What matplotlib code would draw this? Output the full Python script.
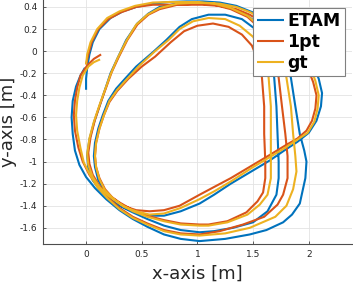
import matplotlib
matplotlib.use("Agg")
import matplotlib.pyplot as plt

plt.rcParams['font.family'] = ['DejaVu Sans']
plt.rcParams['axes.unicode_minus'] = False

labels = ["ETAM", "1pt", "gt"]
colors = ["#0072BD", "#D95319", "#EDB120"]

etam_x = [0.00, 0.00, 0.01, 0.03, 0.06, 0.12, 0.22, 0.33, 0.45, 0.60, 0.75, 0.90, 1.05, 1.20, 1.35, 1.50, 1.65, 1.80, 1.93, 2.03, 2.09, 2.12, 2.11, 2.07, 2.00, 1.90, 1.78, 1.65, 1.50, 1.30, 1.15, 1.02, 0.85, 0.70, 0.57, 0.45, 0.35, 0.25, 0.17, 0.11, 0.08, 0.07, 0.08, 0.11, 0.15, 0.20, 0.27, 0.35, 0.45, 0.60, 0.72, 0.84, 0.95, 1.10, 1.25, 1.40, 1.52, 1.61, 1.66, 1.69, 1.71, 1.72, 1.73, 1.73, 1.71, 1.63, 1.50, 1.32, 1.15, 1.02, 0.85, 0.70, 0.55, 0.42, 0.30, 0.20, 0.12, 0.06, 0.02, 0.01, 0.03, 0.07, 0.12, 0.17, 0.22, 0.28, 0.36, 0.46, 0.56, 0.66, 0.84, 1.00, 1.15, 1.30, 1.45, 1.58, 1.70, 1.78, 1.84, 1.88, 1.92, 1.96, 1.98, 1.97, 1.92, 1.85, 1.77, 1.62, 1.47, 1.25, 1.02, 0.85, 0.70, 0.55, 0.42, 0.30, 0.18, 0.08, 0.00, -0.06, -0.10, -0.12, -0.13, -0.12, -0.09, -0.05, -0.01]
etam_y = [-0.35, -0.25, -0.15, -0.03, 0.08, 0.20, 0.30, 0.36, 0.40, 0.43, 0.445, 0.45, 0.45, 0.44, 0.41, 0.35, 0.27, 0.17, 0.05, -0.10, -0.25, -0.38, -0.50, -0.63, -0.74, -0.82, -0.90, -0.99, -1.08, -1.20, -1.30, -1.38, -1.45, -1.49, -1.49, -1.46, -1.42, -1.36, -1.27, -1.17, -1.05, -0.95, -0.83, -0.70, -0.58, -0.45, -0.34, -0.25, -0.14, -0.01, 0.10, 0.22, 0.29, 0.33, 0.33, 0.29, 0.20, 0.07, -0.08, -0.24, -0.50, -0.75, -1.00, -1.15, -1.30, -1.45, -1.55, -1.60, -1.63, -1.64, -1.62, -1.58, -1.52, -1.46, -1.40, -1.33, -1.25, -1.17, -1.06, -0.94, -0.80, -0.65, -0.50, -0.35, -0.20, -0.07, 0.10, 0.25, 0.34, 0.40, 0.435, 0.44, 0.43, 0.39, 0.32, 0.22, 0.07, -0.07, -0.24, -0.50, -0.75, -0.90, -1.00, -1.15, -1.38, -1.48, -1.55, -1.62, -1.66, -1.70, -1.72, -1.70, -1.66, -1.59, -1.52, -1.44, -1.34, -1.24, -1.14, -1.03, -0.90, -0.75, -0.60, -0.45, -0.32, -0.22, -0.15]

onept_x = [0.00, 0.02, 0.05, 0.11, 0.20, 0.31, 0.45, 0.60, 0.75, 0.90, 1.05, 1.20, 1.35, 1.47, 1.62, 1.77, 1.90, 1.99, 2.04, 2.07, 2.06, 2.03, 1.98, 1.90, 1.78, 1.65, 1.50, 1.30, 1.15, 1.02, 0.84, 0.70, 0.57, 0.45, 0.33, 0.24, 0.17, 0.12, 0.09, 0.08, 0.09, 0.12, 0.16, 0.21, 0.28, 0.38, 0.50, 0.62, 0.76, 0.88, 1.00, 1.14, 1.28, 1.40, 1.49, 1.55, 1.58, 1.60, 1.60, 1.61, 1.61, 1.59, 1.54, 1.44, 1.27, 1.10, 1.02, 0.85, 0.70, 0.55, 0.42, 0.30, 0.20, 0.12, 0.06, 0.03, 0.02, 0.04, 0.08, 0.13, 0.18, 0.23, 0.29, 0.37, 0.46, 0.56, 0.66, 0.82, 1.00, 1.15, 1.30, 1.45, 1.57, 1.66, 1.71, 1.73, 1.76, 1.79, 1.81, 1.81, 1.77, 1.72, 1.60, 1.41, 1.20, 1.02, 0.85, 0.70, 0.55, 0.42, 0.30, 0.19, 0.10, 0.03, -0.03, -0.07, -0.10, -0.11, -0.10, -0.08, -0.05, 0.01, 0.07, 0.135]
onept_y = [-0.12, -0.03, 0.08, 0.20, 0.29, 0.35, 0.40, 0.42, 0.42, 0.42, 0.42, 0.41, 0.38, 0.33, 0.24, 0.13, 0.00, -0.15, -0.28, -0.40, -0.52, -0.63, -0.72, -0.79, -0.86, -0.94, -1.03, -1.15, -1.23, -1.30, -1.40, -1.44, -1.45, -1.44, -1.40, -1.33, -1.25, -1.15, -1.05, -0.95, -0.83, -0.70, -0.58, -0.46, -0.36, -0.25, -0.14, -0.05, 0.08, 0.18, 0.23, 0.25, 0.22, 0.15, 0.05, -0.10, -0.24, -0.50, -0.75, -1.00, -1.15, -1.28, -1.36, -1.46, -1.54, -1.57, -1.57, -1.56, -1.53, -1.49, -1.44, -1.37, -1.30, -1.22, -1.12, -1.02, -0.92, -0.78, -0.62, -0.47, -0.33, -0.19, -0.06, 0.10, 0.24, 0.33, 0.38, 0.42, 0.43, 0.42, 0.38, 0.31, 0.20, 0.05, -0.10, -0.24, -0.50, -0.75, -0.95, -1.15, -1.30, -1.39, -1.50, -1.57, -1.63, -1.66, -1.65, -1.62, -1.56, -1.50, -1.42, -1.32, -1.22, -1.12, -1.00, -0.87, -0.72, -0.58, -0.45, -0.33, -0.22, -0.13, -0.07, -0.03]

gt_x = [0.00, 0.01, 0.04, 0.10, 0.19, 0.30, 0.44, 0.60, 0.75, 0.90, 1.05, 1.20, 1.35, 1.48, 1.63, 1.78, 1.92, 2.01, 2.06, 2.09, 2.08, 2.05, 1.99, 1.90, 1.78, 1.65, 1.50, 1.30, 1.15, 1.02, 0.85, 0.70, 0.57, 0.45, 0.34, 0.25, 0.17, 0.12, 0.09, 0.08, 0.09, 0.12, 0.16, 0.21, 0.28, 0.37, 0.48, 0.62, 0.74, 0.84, 0.96, 1.10, 1.25, 1.38, 1.50, 1.58, 1.62, 1.64, 1.66, 1.66, 1.66, 1.66, 1.63, 1.56, 1.45, 1.27, 1.10, 1.02, 0.85, 0.70, 0.55, 0.42, 0.30, 0.20, 0.12, 0.06, 0.02, 0.01, 0.03, 0.07, 0.12, 0.17, 0.22, 0.28, 0.36, 0.45, 0.55, 0.66, 0.82, 1.00, 1.15, 1.30, 1.45, 1.58, 1.69, 1.76, 1.80, 1.84, 1.86, 1.88, 1.89, 1.86, 1.80, 1.70, 1.47, 1.25, 1.02, 0.85, 0.70, 0.55, 0.42, 0.30, 0.19, 0.10, 0.04, -0.02, -0.05, -0.08, -0.09, -0.08, -0.06, -0.03, 0.02, 0.07, 0.126]
gt_y = [-0.12, -0.03, 0.08, 0.20, 0.30, 0.36, 0.41, 0.44, 0.445, 0.445, 0.44, 0.43, 0.40, 0.35, 0.26, 0.15, 0.02, -0.13, -0.27, -0.40, -0.52, -0.64, -0.74, -0.80, -0.88, -0.96, -1.05, -1.18, -1.27, -1.34, -1.42, -1.47, -1.48, -1.45, -1.41, -1.34, -1.26, -1.16, -1.05, -0.95, -0.83, -0.70, -0.58, -0.45, -0.35, -0.25, -0.13, 0.00, 0.10, 0.20, 0.27, 0.30, 0.29, 0.23, 0.13, 0.00, -0.12, -0.24, -0.50, -0.75, -1.00, -1.15, -1.30, -1.39, -1.48, -1.55, -1.58, -1.58, -1.57, -1.54, -1.50, -1.45, -1.38, -1.31, -1.23, -1.14, -1.03, -0.93, -0.79, -0.64, -0.49, -0.35, -0.21, -0.07, 0.09, 0.24, 0.33, 0.39, 0.43, 0.44, 0.43, 0.39, 0.32, 0.21, 0.06, -0.08, -0.24, -0.50, -0.75, -0.95, -1.09, -1.25, -1.40, -1.50, -1.60, -1.65, -1.67, -1.66, -1.63, -1.57, -1.51, -1.43, -1.33, -1.23, -1.13, -1.01, -0.88, -0.72, -0.58, -0.45, -0.33, -0.22, -0.14, -0.10, -0.075]

xticks = [0, 0.5, 1, 1.5, 2]
xticklabels = ["0", "0.5", "1", "1.5", "2"]
yticks = [0.4, 0.2, 0, -0.2, -0.4, -0.6, -0.8, -1, -1.2, -1.4, -1.6]
yticklabels = ["0.4", "0.2", "0", "-0.2", "-0.4", "-0.6", "-0.8", "-1", "-1.2", "-1.4", "-1.6"]

fig = plt.figure(figsize=(3.53, 2.82), dpi=100)
ax = fig.add_axes([43/353, 1 - 244.3/282, 309/353, 244.3/282])

series = [(etam_x, etam_y), (onept_x, onept_y), (gt_x, gt_y)]
for (sx, sy), lab, col in zip(series, labels, colors):
    ax.plot(sx, sy, color=col, lw=1.5, label=lab, solid_capstyle='butt')

ax.set_xlim(-0.387, 2.389)
ax.set_ylim(-1.749, 0.463)
ax.set_xticks(xticks)
ax.set_xticklabels(xticklabels)
ax.set_yticks(yticks)
ax.set_yticklabels(yticklabels)
ax.tick_params(direction='in', length=2.5, width=0.5, labelsize=6.5, colors='#262626', pad=4)
ax.grid(True, color='#e3e3e3', lw=0.6)
ax.set_axisbelow(True)
for s in ['top', 'right']:
    ax.spines[s].set_visible(False)
for s in ['left', 'bottom']:
    ax.spines[s].set_color('#4d4d4d')
    ax.spines[s].set_linewidth(0.8)

ax.set_xlabel("x-axis [m]", fontsize=13, color='#262626', labelpad=4)
ax.set_ylabel("y-axis [m]", fontsize=13, color='#262626', labelpad=2)

leg = ax.legend(loc='upper right', bbox_to_anchor=(0.977, 0.967), borderaxespad=0,
                prop={'weight': 'bold', 'size': 12.5}, handlelength=1.55, handletextpad=0.2,
                labelspacing=0.15, borderpad=0.25, fancybox=False, framealpha=1,
                edgecolor='#808080')
leg.get_frame().set_linewidth(0.8)

fig.savefig("out.png", dpi=100)
